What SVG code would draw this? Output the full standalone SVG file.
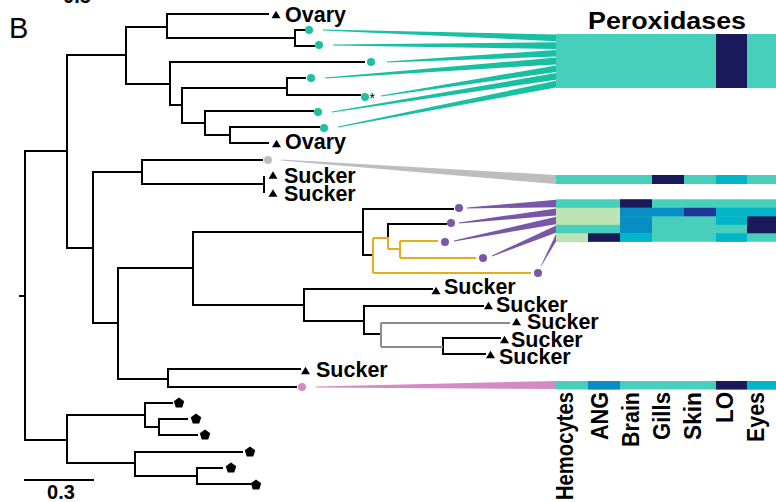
<svg xmlns="http://www.w3.org/2000/svg" width="776" height="502" viewBox="0 0 776 502">
<style>
.br{fill:none;stroke:#000;stroke-width:2;stroke-linecap:square}
.yb{fill:none;stroke:#E3AE1A;stroke-width:2}
.gb{fill:none;stroke:#8C8C8C;stroke-width:2}
.lbl{font-family:"Liberation Sans",Arial,sans-serif;font-weight:bold;font-size:21.5px;fill:#000}
.col{font-family:"Liberation Sans",Arial,sans-serif;font-weight:bold;font-size:23px;fill:#000}
.T{fill:#48CFBB}.D{fill:#1A1A5A}.C{fill:#00B5C7}.B{fill:#078EC4}.NB{fill:#1E3795}.LG{fill:#BDE4B4}
.tf{fill:#19BFA3}.pf{fill:#7A56A8}.gf{fill:#BDBDBD}.kf{fill:#D38BC6}
</style>
<defs>
<path id="tri" d="M0,-4.3 L4.5,3.2 L-4.5,3.2 Z" fill="#000"/>
<path id="pent" d="M0,-5.5 L5.23,-1.7 L3.23,4.45 L-3.23,4.45 L-5.23,-1.7 Z" fill="#000"/>
</defs>
<rect width="776" height="502" fill="#fff"/>
<text x="77" y="3" text-anchor="middle" class="lbl" style="font-size:20px">0.5</text>
<text x="9" y="38" style="font-family:'Liberation Sans',Arial,sans-serif;font-size:29px">B</text>

<g id="connectors">
<polygon class="tf" points="323,29.5 556,34.5 556,41.2 323,30.5"/>
<polygon class="tf" points="333,44.5 556,42.2 556,49 333,45.5"/>
<polygon class="tf" points="387,61.5 556,49.9 556,56.6 387,62.5"/>
<polygon class="tf" points="325,77.5 556,57.6 556,64.4 325,78.5"/>
<polygon class="tf" points="381,95.5 556,65.4 556,72.1 381,96.5"/>
<polygon class="tf" points="332,111.5 556,73.1 556,79.8 332,112.5"/>
<polygon class="tf" points="338,126.5 556,80.8 556,87.5 338,127.5"/>
<polygon class="gf" points="281,159.5 556,175 556,184 281,160.5"/>
<polygon class="pf" points="467,207.5 556,199.8 556,207.2 467,208.5"/>
<polygon class="pf" points="459,222.5 556,208.4 556,215.6 459,223.5"/>
<polygon class="pf" points="454,240.5 556,216.8 556,224.2 454,241.5"/>
<polygon class="pf" points="492,255.5 556,225.4 556,232.8 492,256.5"/>
<polygon class="pf" points="541,265.5 556,234 556,241.4 541,266.5"/>
<polygon class="kf" points="316,386.5 556,381 556,389 316,387.5"/>
<path class="br" d="M25,151 V440 M25,151 H67 M25,440 H67 M20,296 H25
M67,55 V248 M67,55 H126 M126,27 V84 M126,27 H167 M167,14 V38 M167,14 H268
M167,38 H295 M295,30 V46 M295,30 H305 M295,46 H314
M126,84 H170 M170,62 V105 M170,62 H364 M170,105 H182 M182,88 V123
M182,88 H287 M287,78 V95 M287,78 H305 M287,95 H360
M182,123 H205 M205,111 V135 M205,111 H313 M205,135 H230 M230,127 V143 M230,127 H319 M230,143 H268
M67,248 H93 M93,172 V323 M93,172 H142 M142,160 V184 M142,160 H262 M142,184 H264 M264,177 V192
M93,323 H118 M118,268 V379 M118,268 H193 M193,232 V305 M193,232 H363 M363,209 V255 M363,209 H453 M363,255 H373
M388,224 V237 M388,224 H446
M193,305 H304 M304,289 V321 M304,289 H432 M304,321 H364 M364,306 V334 M364,306 H483 M364,334 H381
M443,338 V354 M443,338 H500 M443,354 H485
M118,379 H168 M168,369 V387 M168,369 H300 M168,387 H296
M67,415 V463 M67,415 H145 M145,403 V427 M145,403 H172 M145,427 H159 M159,419 V435 M159,419 H187 M159,435 H197
M67,463 H135 M135,452 V476 M135,452 H242 M135,476 H197 M197,468 V484 M197,468 H222 M197,484 H250
M25,480 H93"/>
<path class="yb" d="M373,238 V273 M373,238 H388 M388,237 V249 M388,249 H400 M400,241 V258 M400,241 H438 M400,258 H476 M373,273 H531"/>
<path class="gb" d="M381,323 V347 M381,323 H510 M381,347 H443"/>
</g>

<g id="teal-leaves" fill="#1DBFA5">
<circle cx="309" cy="30" r="4"/><circle cx="319" cy="45" r="4"/><circle cx="371" cy="62" r="4"/>
<circle cx="311" cy="78" r="4"/><circle cx="365" cy="97" r="4"/><circle cx="318" cy="112" r="4"/><circle cx="324" cy="128" r="4"/>
<text x="369.5" y="103" style="font-family:'Liberation Sans',Arial,sans-serif;font-size:14px;fill:#000">*</text>
</g>
<g id="gray-leaf"><circle cx="268" cy="160" r="4" fill="#BDBDBD"/></g>
<g id="purple-leaves" fill="#7A56A8">
<circle cx="459" cy="208" r="4"/><circle cx="451" cy="223" r="4"/><circle cx="445" cy="242" r="4"/>
<circle cx="483" cy="258" r="4"/><circle cx="538" cy="273" r="4"/>
</g>
<g id="pink-leaf"><circle cx="302" cy="387" r="4" fill="#D38BC6"/></g>
<g id="outgroup">
<use href="#pent" x="179" y="403"/><use href="#pent" x="196" y="419"/><use href="#pent" x="205" y="435"/>
<use href="#pent" x="250" y="452"/><use href="#pent" x="231" y="468"/><use href="#pent" x="256" y="485"/>
</g>

<g id="labels">
<use href="#tri" x="276" y="15"/><text class="lbl" x="285" y="21.5">Ovary</text>
<use href="#tri" x="276.5" y="144"/><text class="lbl" x="285" y="148.5">Ovary</text>
<use href="#tri" x="273" y="175.5"/><text class="lbl" x="284" y="182.5">Sucker</text>
<use href="#tri" x="273" y="193.5"/><text class="lbl" x="284" y="200.5">Sucker</text>
<use href="#tri" x="436" y="291"/><text class="lbl" x="444" y="293.5">Sucker</text>
<use href="#tri" x="488.5" y="306"/><text class="lbl" x="496" y="311.5">Sucker</text>
<use href="#tri" x="516.5" y="322"/><text class="lbl" x="527" y="329">Sucker</text>
<use href="#tri" x="504.5" y="340"/><text class="lbl" x="511" y="347">Sucker</text>
<use href="#tri" x="490.5" y="355"/><text class="lbl" x="499" y="364">Sucker</text>
<use href="#tri" x="305.5" y="371"/><text class="lbl" x="316" y="376.5">Sucker</text>
</g>

<g id="scale"><text x="61" y="499" text-anchor="middle" class="lbl" style="font-size:20px">0.3</text></g>

<g id="heatmap">
<text x="588" y="29" class="col" textLength="158" lengthAdjust="spacingAndGlyphs">Peroxidases</text>
<g id="block-teal">
<rect class="T" x="556" y="34" width="220" height="54"/>
<rect class="D" x="716" y="34" width="31" height="54"/>
</g>
<g id="row-gray">
<rect class="T" x="556" y="175" width="220" height="9"/>
<rect class="D" x="652" y="175" width="32" height="9"/>
<rect class="C" x="716" y="175" width="31" height="9"/>
</g>
<g id="rows-purple">
<rect class="T" x="556" y="199.3" width="220" height="42.5"/>
<rect class="D" x="620" y="199.3" width="32" height="8.5"/>
<rect class="LG" x="556" y="207.8" width="64" height="17"/>
<rect class="B" x="620" y="207.8" width="64" height="8.5"/>
<rect class="NB" x="684" y="207.8" width="32" height="8.5"/>
<rect class="C" x="716" y="207.8" width="60" height="8.5"/>
<rect class="B" x="620" y="216.3" width="32" height="17"/>
<rect class="C" x="716" y="216.3" width="31" height="8.5"/>
<rect class="D" x="747" y="216.3" width="29" height="17"/>
<rect class="LG" x="556" y="233.3" width="32" height="8.5"/>
<rect class="D" x="588" y="233.3" width="32" height="8.5"/>
<rect class="C" x="620" y="233.3" width="32" height="8.5"/>
<rect class="C" x="716" y="233.3" width="31" height="8.5"/>
</g>
<g id="row-pink">
<rect class="T" x="556" y="381" width="220" height="8.5"/>
<rect class="B" x="588" y="381" width="32" height="8.5"/>
<rect class="D" x="716" y="381" width="31" height="8.5"/>
<rect class="C" x="747" y="381" width="29" height="8.5"/>
</g>
<g id="col-labels" class="col" text-anchor="end">
<text transform="translate(573,392) rotate(-90)" textLength="108" lengthAdjust="spacingAndGlyphs">Hemocytes</text>
<text transform="translate(608,392) rotate(-90)" textLength="48" lengthAdjust="spacingAndGlyphs">ANG</text>
<text transform="translate(639,392) rotate(-90)" textLength="55" lengthAdjust="spacingAndGlyphs">Brain</text>
<text transform="translate(670,392) rotate(-90)" textLength="48" lengthAdjust="spacingAndGlyphs">Gills</text>
<text transform="translate(701,392) rotate(-90)" textLength="48" lengthAdjust="spacingAndGlyphs">Skin</text>
<text transform="translate(733,392) rotate(-90)" textLength="31" lengthAdjust="spacingAndGlyphs">LO</text>
<text transform="translate(764,392) rotate(-90)" textLength="50" lengthAdjust="spacingAndGlyphs">Eyes</text>
</g>
</g>
</svg>
